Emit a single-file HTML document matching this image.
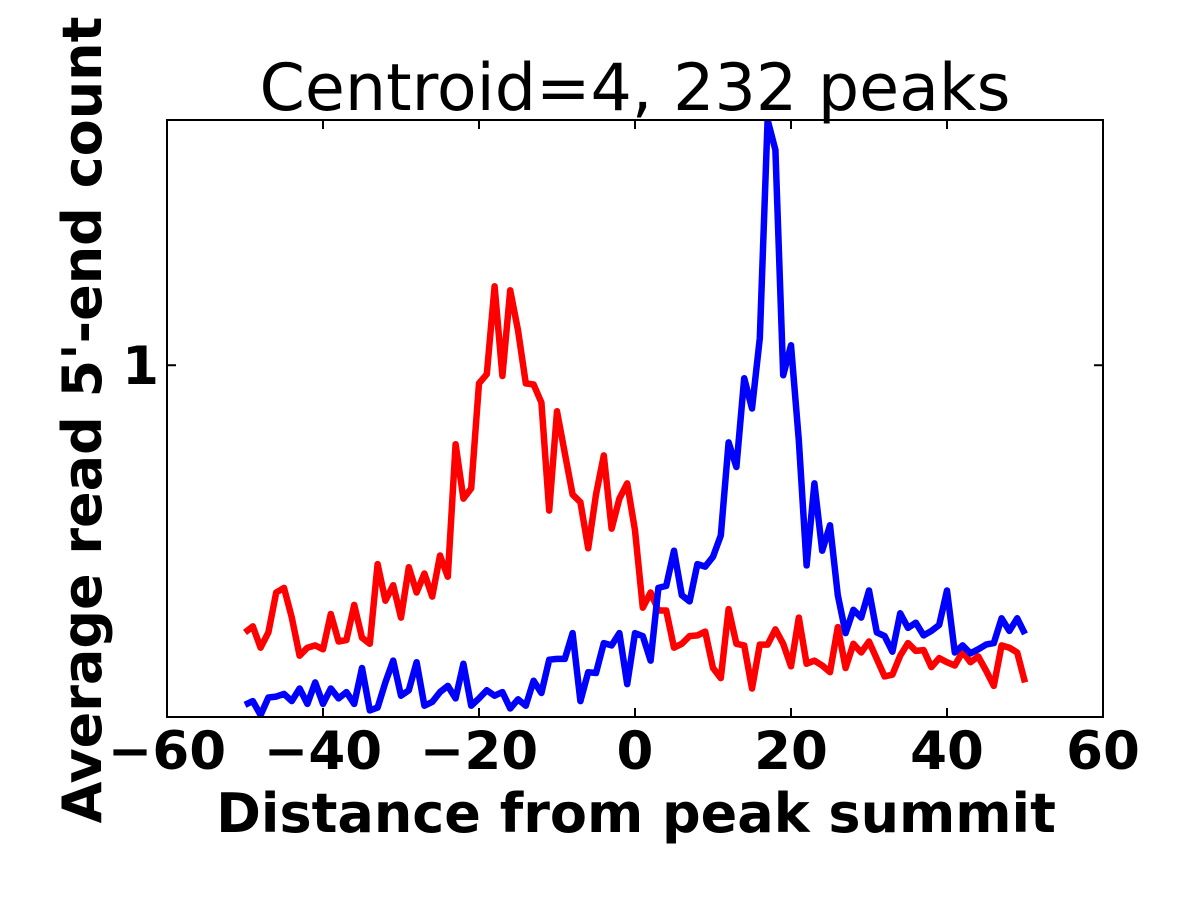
<!DOCTYPE html>
<html><head><meta charset="utf-8"><style>
body{margin:0;background:#fff;}
svg text{font-family:"DejaVu Sans","Liberation Sans",sans-serif;}
</style></head><body>
<svg id="chart" width="1200" height="900" xmlns="http://www.w3.org/2000/svg">
<rect width="1200" height="900" fill="#fff"/>
<text x="635" y="110" font-size="65" text-anchor="middle">Centroid=4, 232 peaks</text>
<g id="plot"></g>
<text x="636" y="832" font-size="54" font-weight="bold" text-anchor="middle">Distance from peak summit</text>
<text transform="translate(101,420) rotate(-90)" font-size="54" font-weight="bold" text-anchor="middle">Average read 5'-end count</text>
</svg>
<script>
const xValues = [];
for (let i = -50; i <= 50; i++) xValues.push(i);
const redValues = [0.47,0.478,0.45,0.47,0.526,0.533,0.49,0.44,0.45,0.453,0.448,0.495,0.458,0.46,0.508,0.463,0.455,0.57,0.514,0.537,0.49,0.565,0.526,0.555,0.52,0.584,0.55,0.8,0.686,0.706,0.95,0.975,1.25,0.97,1.236,1.104,0.95,0.947,0.9,0.663,0.878,0.78,0.694,0.679,0.596,0.694,0.775,0.63,0.686,0.716,0.627,0.504,0.526,0.5,0.5,0.45,0.455,0.465,0.466,0.471,0.425,0.413,0.502,0.455,0.453,0.401,0.454,0.454,0.474,0.455,0.427,0.49,0.43,0.434,0.428,0.42,0.477,0.425,0.455,0.444,0.458,0.436,0.415,0.417,0.44,0.456,0.446,0.447,0.426,0.437,0.432,0.428,0.445,0.432,0.439,0.422,0.404,0.453,0.45,0.444,0.408];
const blueValues = [0.383,0.387,0.372,0.391,0.392,0.395,0.387,0.401,0.384,0.408,0.384,0.401,0.39,0.397,0.384,0.425,0.377,0.38,0.408,0.434,0.393,0.399,0.432,0.382,0.386,0.397,0.404,0.39,0.43,0.382,0.39,0.399,0.393,0.397,0.379,0.389,0.382,0.41,0.396,0.435,0.436,0.436,0.469,0.387,0.42,0.419,0.456,0.453,0.469,0.406,0.469,0.465,0.434,0.533,0.536,0.592,0.522,0.513,0.57,0.566,0.582,0.618,0.804,0.75,0.964,0.885,1.079,2.0,1.838,0.972,1.058,0.809,0.568,0.716,0.592,0.636,0.522,0.469,0.501,0.49,0.529,0.47,0.465,0.445,0.496,0.476,0.483,0.466,0.472,0.48,0.529,0.444,0.453,0.443,0.448,0.454,0.456,0.489,0.472,0.489,0.468];
const xTicks = [-60,-40,-20,0,20,40,60];
const xTickLabels = ["\u221260","\u221240","\u221220","0","20","40","60"];
const yTicks = [1];
const yTickLabels = ["1"];

const L=167,R=1103,T=120,B=717, XMIN=-60,XMAX=60, YMIN=0.37,YMAX=2.0;
const xs=v=>L+(v-XMIN)/(XMAX-XMIN)*(R-L);
const ys=v=>B-(Math.log10(v)-Math.log10(YMIN))/(Math.log10(YMAX)-Math.log10(YMIN))*(B-T);
const NS="http://www.w3.org/2000/svg";
const g=document.getElementById('plot');
function mk(tag,attrs){const e=document.createElementNS(NS,tag);for(const k in attrs)e.setAttribute(k,attrs[k]);g.appendChild(e);return e;}

const clip=document.createElementNS(NS,'clipPath');clip.setAttribute('id','cp');
const cr=document.createElementNS(NS,'rect');cr.setAttribute('x',L);cr.setAttribute('y',T);cr.setAttribute('width',R-L);cr.setAttribute('height',B-T);
clip.appendChild(cr);g.appendChild(clip);

function series(vals,color,name){
  const d=vals.map((v,i)=>(i?'L':'M')+xs(xValues[i]).toFixed(1)+','+ys(v).toFixed(1)).join(' ');
  const p=mk('path',{d:d,fill:'none',stroke:color,'stroke-width':6.5,'stroke-linejoin':'round','clip-path':'url(#cp)'});
  
  
}
series(redValues,'#ff0000','red-series-line');
series(blueValues,'#0000ff','blue-series-line');

const frame=mk('rect',{x:L,y:T,width:R-L,height:B-T,fill:'none',stroke:'#000','stroke-width':2});



xTicks.forEach((t,i)=>{
  const x=xs(t);
  mk('line',{x1:x,y1:B,x2:x,y2:B-9,stroke:'#000','stroke-width':2});
  mk('line',{x1:x,y1:T,x2:x,y2:T+9,stroke:'#000','stroke-width':2});
  const tx=mk('text',{x:x,y:B+52,'font-size':53,'font-weight':'bold','text-anchor':'middle'});
  tx.textContent=xTickLabels[i];
  
  
});
yTicks.forEach((t,i)=>{
  const y=ys(t);
  mk('line',{x1:L,y1:y,x2:L+9,y2:y,stroke:'#000','stroke-width':2});
  mk('line',{x1:R,y1:y,x2:R-9,y2:y,stroke:'#000','stroke-width':2});
  const tx=mk('text',{x:L-8,y:y+19,'font-size':53,'font-weight':'bold','text-anchor':'end'});
  tx.textContent=yTickLabels[i];
  
  
});
</script>
</body></html>
